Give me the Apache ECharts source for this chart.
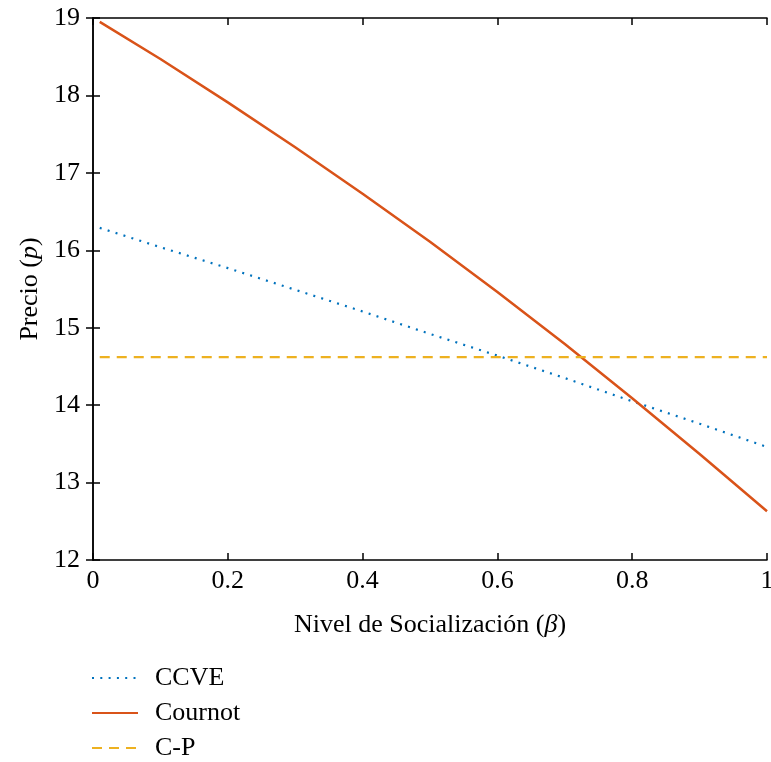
<!DOCTYPE html>
<html>
<head>
<meta charset="utf-8">
<script src="https://cdn.jsdelivr.net/npm/echarts@6/dist/echarts.min.js"></script>
<style>
  html, body { margin: 0; padding: 0; background: #fff; }
  #chart { width: 771px; height: 762px; }
</style>
</head>
<body>
<div id="chart"></div>
<script>
// nivel de socialización (beta)
const beta = [0.01, 0.1, 0.2, 0.3, 0.4, 0.5, 0.6, 0.7, 0.8, 0.9, 1.0];
const ccve = [16.29, 16.04, 15.77, 15.49, 15.21, 14.92, 14.64, 14.35, 14.05, 13.76, 13.46];
const cournot = [18.95, 18.47, 17.91, 17.33, 16.73, 16.11, 15.46, 14.79, 14.09, 13.37, 12.63];
const cpBeta = [0.01, 1.0];
const cp = [14.62, 14.62];

const font = "'Liberation Serif', 'DejaVu Serif', serif";
const fs = 26;
const pairs = (xs, ys) => xs.map((x, i) => [x, ys[i]]);

const chart = echarts.init(document.getElementById("chart"), null, { renderer: "canvas" });

const axisLine = { show: true, lineStyle: { color: "#000", width: 1.5 } };
const axisTick = { show: true, inside: true, length: 7, lineStyle: { color: "#000", width: 1.5 } };
const nameStyle = {
  color: "#000", fontSize: fs, fontFamily: font,
  rich: { i: { fontStyle: "italic", fontSize: fs, fontFamily: font, color: "#000" } }
};

chart.setOption({
  backgroundColor: "#fff",
  animation: false,
  textStyle: { fontFamily: font },
  grid: { left: 93, right: 4, top: 18, bottom: 202, outerBoundsMode: "none" },
  legend: {
    orient: "vertical",
    left: 91,
    top: 665,
    height: 200,
    padding: 0,
    itemWidth: 46,
    itemHeight: 14,
    itemGap: 9,
    itemStyle: { opacity: 0 },
    textStyle: { fontFamily: font, fontSize: fs, color: "#000", lineHeight: 24, padding: [0, 0, 0, 12] },
    data: ["CCVE", "Cournot", "C-P"]
  },
  xAxis: [
    {
      type: "value",
      min: 0, max: 1, interval: 0.2,
      position: "bottom",
      axisLine, axisTick,
      splitLine: { show: false },
      axisLabel: { color: "#000", fontSize: fs, fontFamily: font, margin: 8 },
      name: "Nivel de Socialización ({i|β})",
      nameLocation: "middle",
      nameGap: 52,
      nameTextStyle: nameStyle
    },
    {
      type: "value",
      min: 0, max: 1, interval: 0.2,
      position: "top",
      axisLine, axisTick,
      splitLine: { show: false },
      axisLabel: { show: false }
    }
  ],
  yAxis: [
    {
      type: "value",
      min: 12, max: 19, interval: 1,
      position: "left",
      axisLine, axisTick,
      splitLine: { show: false },
      axisLabel: { color: "#000", fontSize: fs, fontFamily: font, margin: 13 },
      name: "Precio ({i|p})",
      nameLocation: "middle",
      nameGap: 50,
      nameTextStyle: nameStyle
    },
    {
      type: "value",
      min: 12, max: 19, interval: 1,
      position: "right",
      axisLine, axisTick,
      splitLine: { show: false },
      axisLabel: { show: false }
    }
  ],
  series: [
    {
      name: "CCVE",
      type: "line",
      data: pairs(beta, ccve),
      symbol: "none",
      lineStyle: { color: "#0072BD", width: 2.2, type: [2, 6.3] },
      itemStyle: { color: "#0072BD" }
    },
    {
      name: "Cournot",
      type: "line",
      data: pairs(beta, cournot),
      symbol: "none",
      lineStyle: { color: "#D95319", width: 2.5 },
      itemStyle: { color: "#D95319" }
    },
    {
      name: "C-P",
      type: "line",
      data: pairs(cpBeta, cp),
      symbol: "none",
      lineStyle: { color: "#EDB120", width: 2.2, type: [10, 7] },
      itemStyle: { color: "#EDB120" }
    }
  ]
});
</script>
</body>
</html>
